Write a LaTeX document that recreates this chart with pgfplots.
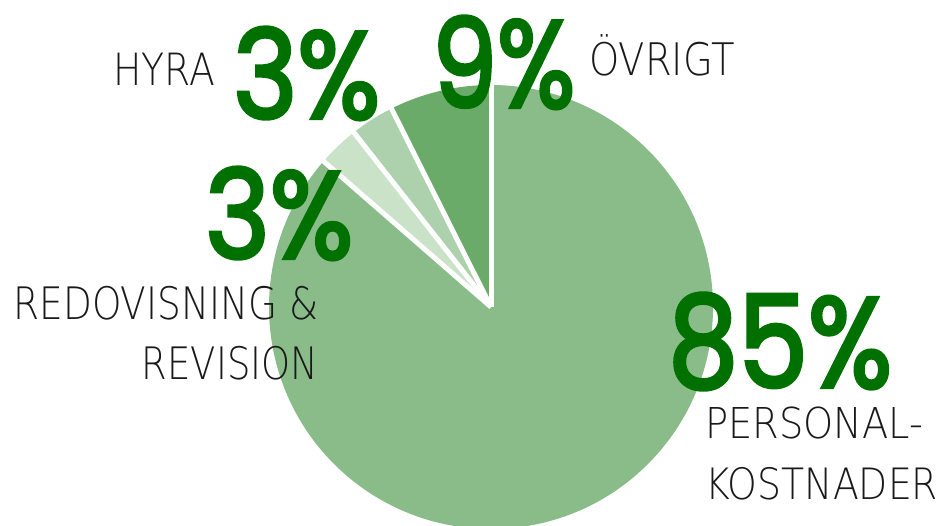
\documentclass[border=0pt]{standalone}
\usepackage{pgfplots}
\pgfplotsset{compat=1.18}
\usepackage{pgfplotstable}
\usepackage{graphicx}
\usepackage{fontspec}
\IfFontExistsTF{DejaVu Sans ExtraLight}{\newfontfamily\thinfont{DejaVu Sans ExtraLight}}{%
 \IfFontExistsTF{DejaVuSans-ExtraLight.ttf}{\newfontfamily\thinfont{DejaVuSans-ExtraLight.ttf}}{%
  \newfontfamily\thinfont{Open Sans}}}
\newfontfamily\bigfont{Poppins}[FakeBold=3]
\definecolor{cPer}{RGB}{137,188,137}
\definecolor{cOvr}{RGB}{106,171,106}
\definecolor{cHyr}{RGB}{173,209,172}
\definecolor{cRed}{RGB}{201,226,200}
\definecolor{cPct}{RGB}{0,112,0}
\definecolor{cLab}{RGB}{25,25,25}
\newcommand\lab[3]{\resizebox{#1pt}{#2pt}{\thinfont\smash{#3}\vphantom{H}}}
\newcommand\pct[3]{\resizebox{#1pt}{#2pt}{\bigfont #3}}
\pgfplotstableread{
slice pct
Ovrigt 7.4
Hyra 3.2
Redovisning 3.0
Personal 86.4
}\pietable
\begin{document}
\begin{tikzpicture}
\pgfplotstablegetelem{0}{pct}\of\pietable \pgfmathsetmacro\aA{90+3.6*\pgfplotsretval}
\pgfplotstablegetelem{1}{pct}\of\pietable \pgfmathsetmacro\aB{\aA+3.6*\pgfplotsretval}
\pgfplotstablegetelem{2}{pct}\of\pietable \pgfmathsetmacro\aC{\aB+3.6*\pgfplotsretval}
\pgfplotstablegetelem{3}{pct}\of\pietable \pgfmathsetmacro\aD{\aC+3.6*\pgfplotsretval}
\begin{axis}[x=1pt,y=1pt,xmin=0,xmax=944,ymin=0,ymax=526,hide axis,clip=true,anchor=south west,at={(0,0)}]
\fill[cOvr] (axis cs:491,219) -- ++(90:222pt) arc[start angle=90,end angle=\aA,radius=222pt] -- cycle;
\fill[cHyr] (axis cs:491,219) -- ++(\aA:222pt) arc[start angle=\aA,end angle=\aB,radius=222pt] -- cycle;
\fill[cRed] (axis cs:491,219) -- ++(\aB:222pt) arc[start angle=\aB,end angle=\aC,radius=222pt] -- cycle;
\fill[cPer] (axis cs:491,219) -- ++(\aC:222pt) arc[start angle=\aC,end angle=\aD,radius=222pt] -- cycle;
\draw[white,line width=5pt] (axis cs:491,219) -- ++(90:226pt);
\draw[white,line width=5pt] (axis cs:491,219) -- ++(\aA:226pt);
\draw[white,line width=5pt] (axis cs:491,219) -- ++(\aB:226pt);
\draw[white,line width=5pt] (axis cs:491,219) -- ++(\aC:226pt);
% labels
\node[anchor=base west,inner sep=0,text=cLab] at (axis cs:113,440.3) {\lab{102}{32.4}{HYRA}};
\node[anchor=base west,inner sep=0,text=cLab] at (axis cs:589,450) {\lab{146}{32.7}{ÖVRIGT}};
\node[anchor=base west,inner sep=0,text=cLab] at (axis cs:13.3,206.7) {\lab{305}{32.6}{REDOVISNING \&}};
\node[anchor=base west,inner sep=0,text=cLab] at (axis cs:141.7,146.7) {\lab{176.3}{32.6}{REVISION}};
\node[anchor=base west,inner sep=0,text=cLab] at (axis cs:705,87.8) {\lab{218}{31}{PERSONAL-}};
\node[anchor=base west,inner sep=0,text=cLab] at (axis cs:705,26.3) {\lab{233}{31.5}{KOSTNADER}};
% percentages
\node[anchor=north west,inner sep=0,text=cPct] at (axis cs:233,499) {\pct{147}{91}{3\%}};
\node[anchor=north west,inner sep=0,text=cPct] at (axis cs:432,510) {\pct{143}{91}{9\%}};
\node[anchor=north west,inner sep=0,text=cPct] at (axis cs:205,359) {\pct{148}{91}{3\%}};
\node[anchor=north west,inner sep=0,text=cPct] at (axis cs:668,233) {\pct{224}{94}{85\%}};
\end{axis}
\pgfresetboundingbox
\path[use as bounding box] (0,0) rectangle (944pt,526pt);
\end{tikzpicture}
\end{document}
